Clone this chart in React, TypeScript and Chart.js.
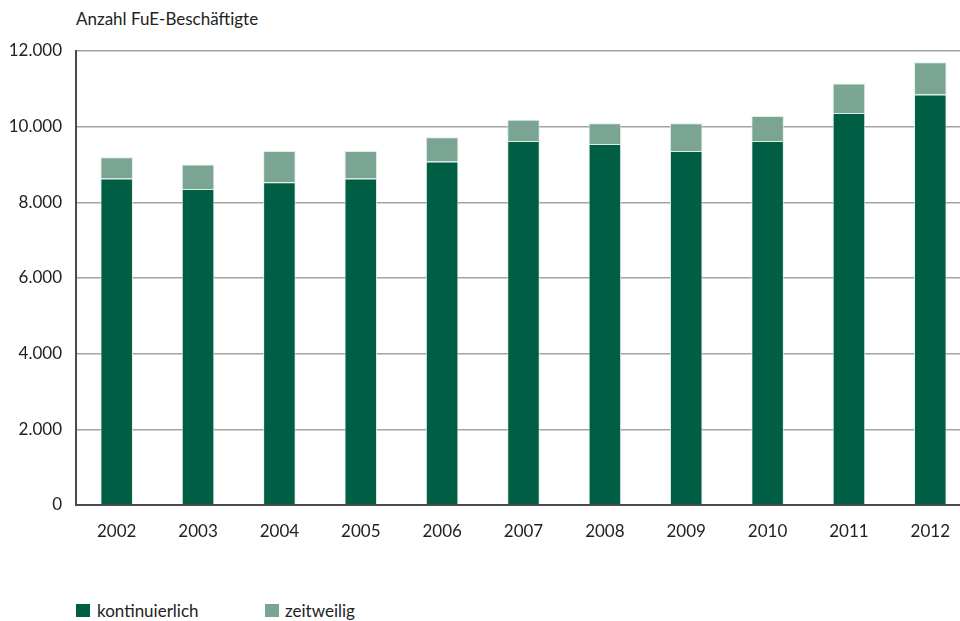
import React, { useEffect, useRef } from "react";
import { Chart, registerables } from "chart.js";

Chart.register(...registerables);

const years = ["2002", "2003", "2004", "2005", "2006", "2007", "2008", "2009", "2010", "2011", "2012"];
const kontinuierlich = [8630, 8350, 8530, 8630, 9080, 9620, 9540, 9360, 9620, 10360, 10850];
const zeitweilig = [560, 650, 830, 730, 640, 560, 550, 730, 660, 780, 850];
const seriesNames = ["kontinuierlich", "zeitweilig"];
const seriesColors = ["#005e44", "#7ba593"];
const axisTitle = "Anzahl FuE-Beschäftigte";

const FONT = "Lato, 'Open Sans', sans-serif";
const TEXT = "#222222";

function fmt(v: number): string {
  const s = Math.round(v).toString();
  return s.replace(/\B(?=(\d{3})+(?!\d))/g, ".");
}

export default function App() {
  const ref = useRef<HTMLCanvasElement | null>(null);

  useEffect(() => {
    if (!ref.current) return;
    const chart = new Chart(ref.current, {
      type: "bar",
      data: {
        labels: years,
        datasets: [
          {
            label: seriesNames[0],
            data: kontinuierlich,
            backgroundColor: seriesColors[0],
            borderColor: "rgba(220,235,228,0.9)",
            borderWidth: 1,
            borderSkipped: "bottom",
            barPercentage: 0.4,
            categoryPercentage: 1,
          },
          {
            label: seriesNames[1],
            data: zeitweilig,
            backgroundColor: seriesColors[1],
            borderColor: "rgba(220,235,228,0.9)",
            borderWidth: 1,
            borderSkipped: "bottom",
            barPercentage: 0.4,
            categoryPercentage: 1,
          },
        ],
      },
      options: {
        responsive: false,
        animation: false,
        devicePixelRatio: 1,
        layout: { padding: { top: 51, left: 0, right: 0, bottom: 0 } },
        plugins: {
          legend: { display: false },
          title: { display: false },
          tooltip: { enabled: false },
        },
        scales: {
          x: {
            stacked: true,
            offset: true,
            grid: { display: false, drawTicks: false },
            border: { display: true, color: "#4a4a4a", width: 2 },
            ticks: {
              color: TEXT,
              font: { family: FONT, size: 17 },
              padding: 16,
              maxRotation: 0,
            },
            afterFit: (scale: any) => {
              scale.height = 55;
            },
          },
          y: {
            stacked: true,
            min: 0,
            max: 12000,
            grid: { color: "#a3a3a3", lineWidth: 1.5, drawTicks: false },
            border: { display: true, color: "#4a4a4a", width: 2 },
            ticks: {
              stepSize: 2000,
              color: TEXT,
              font: { family: FONT, size: 17 },
              padding: 14,
              callback: (v: any) => fmt(Number(v)),
            },
            afterFit: (scale: any) => {
              scale.width = 76;
            },
          },
        },
      },
    });
    return () => chart.destroy();
  }, []);

  const textStyle: React.CSSProperties = {
    position: "absolute",
    fontFamily: FONT,
    fontSize: 17,
    lineHeight: "17px",
    color: TEXT,
    whiteSpace: "nowrap",
  };

  return (
    <div
      style={{
        position: "fixed",
        left: 0,
        top: 0,
        width: 960,
        height: 621,
        overflow: "hidden",
        background: "#ffffff",
      }}
    >
      <div style={{ ...textStyle, left: 76, top: 10 }}>{axisTitle}</div>
      <canvas
        ref={ref}
        width={971}
        height={560}
        style={{ position: "absolute", left: 0, top: 0, width: 971, height: 560 }}
      />
      <div style={{ position: "absolute", left: 76, top: 604, width: 14, height: 13, background: seriesColors[0] }} />
      <div style={{ ...textStyle, left: 97, top: 602 }}>{seriesNames[0]}</div>
      <div style={{ position: "absolute", left: 265, top: 604, width: 14, height: 13, background: seriesColors[1] }} />
      <div style={{ ...textStyle, left: 285, top: 602 }}>{seriesNames[1]}</div>
    </div>
  );
}
